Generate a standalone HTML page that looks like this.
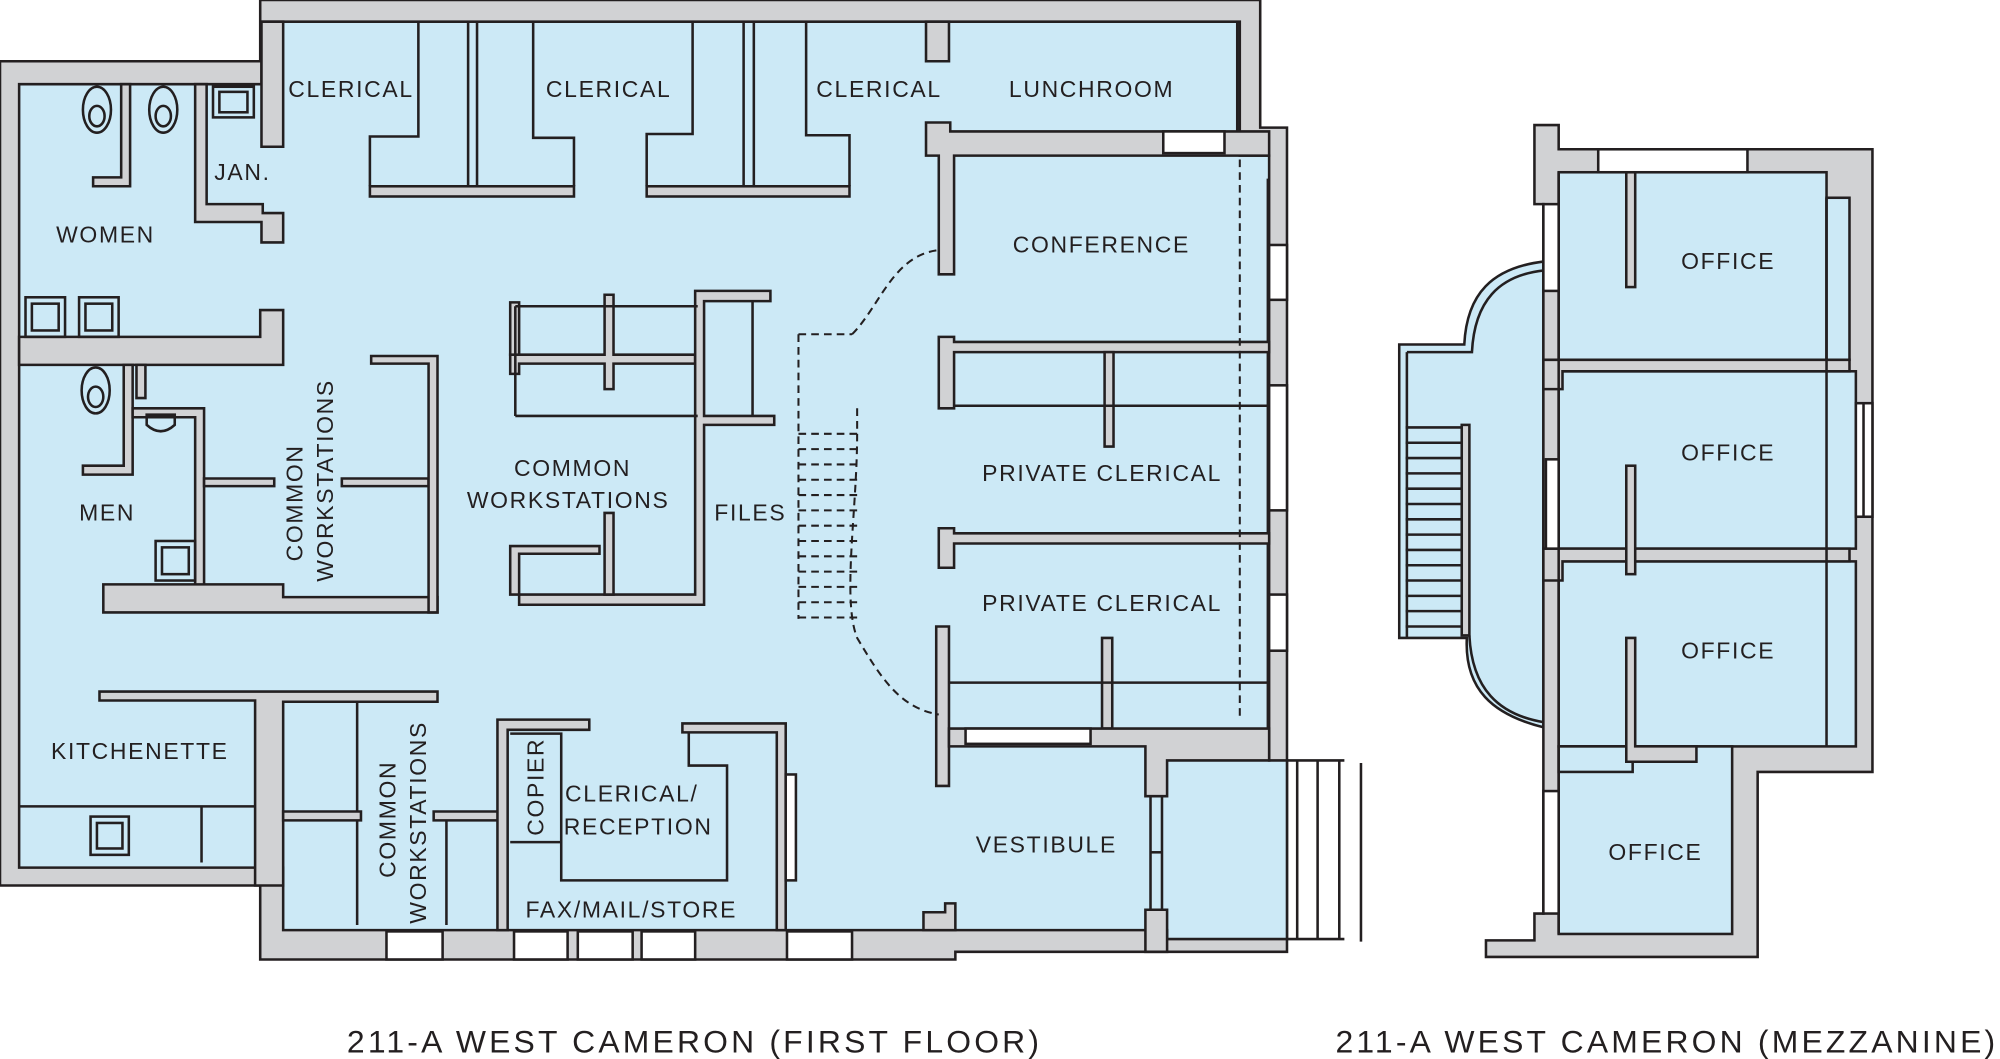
<!DOCTYPE html>
<html><head><meta charset="utf-8"><style>
html,body{margin:0;padding:0;background:#fff}
svg{display:block}
.g{fill:#d1d2d4;stroke:#231f20;stroke-width:2;stroke-linejoin:miter}
.b{fill:#cce9f6;stroke:#231f20;stroke-width:2}
.ln{stroke:#231f20;stroke-width:2;fill:none}
.d{stroke:#231f20;stroke-width:1.6;fill:none;stroke-dasharray:6 4}
.w{fill:#fff;stroke:#231f20;stroke-width:2}
text{font-family:"Liberation Sans",sans-serif;fill:#231f20;font-size:18px;letter-spacing:1.3px}
.t{font-size:25px;letter-spacing:2.5px}
</style></head><body>
<svg width="2000" height="1059" viewBox="0 0 1568 830" preserveAspectRatio="none" xmlns="http://www.w3.org/2000/svg">
<polygon class="g" points="0,48 204,48 204,0 988,0 988,100 1009,100 1009,746 749,746 749,752 204,752 204,694 0,694"/>
<polygon class="b" points="15,66 205,66 205,17 972,17 972,122 995,122 995,596 1009,596 1009,736 915,736 915,729 222,729 222,680 15,680"/>
<polygon class="g" points="205,17 222,17 222,115 205,115"/>
<polygon class="g" points="153,66 162,66 162,160 206,160 206,167 222,167 222,190 205,190 205,174 153,174"/>
<polygon class="g" points="95,66 102,66 102,146 73,146 73,139 95,139"/>
<polygon class="g" points="15,264 204,264 204,243 222,243 222,286 15,286"/>
<ellipse class="ln" cx="76" cy="86" rx="11" ry="18"/><ellipse class="ln" cx="76" cy="91" rx="6" ry="8"/>
<ellipse class="ln" cx="128" cy="86" rx="11" ry="18"/><ellipse class="ln" cx="128" cy="91" rx="6" ry="8"/>
<rect class="ln" x="167" y="68" width="32" height="24"/><rect class="ln" x="172" y="72" width="22" height="16"/>
<rect class="ln" x="20" y="233" width="31" height="31"/><rect class="ln" x="25" y="238" width="21" height="21"/>
<rect class="ln" x="62" y="233" width="31" height="31"/><rect class="ln" x="67" y="238" width="21" height="21"/>
<polygon class="g" points="97,286 104,286 104,372 65,372 65,365 97,365"/>
<polygon class="g" points="104,320 160,320 160,460 153,460 153,327 104,327"/>
<polygon class="g" points="107,286 114,286 114,312 107,312"/>
<polygon class="g" points="160,375 215,375 215,381 160,381"/>
<polygon class="g" points="81,458 222,458 222,468 343,468 343,480 81,480"/>
<ellipse class="ln" cx="75" cy="306" rx="11" ry="18"/><ellipse class="ln" cx="75" cy="311" rx="6" ry="8"/>
<path class="ln" d="M115 325 h22 v8 q-11 10 -22 0z"/>
<rect class="ln" x="122" y="424" width="31" height="31"/><rect class="ln" x="127" y="429" width="21" height="21"/>
<polygon class="g" points="268,375 336,375 336,381 268,381"/>
<polygon class="g" points="291,279 343,279 343,480 336,480 336,285 291,285"/>
<rect class="g" x="290" y="146" width="160" height="8"/>
<rect class="g" x="507" y="146" width="159" height="8"/>
<path class="ln" d="M328,17 V107 H290 V146 M367,17 V146 M374,17 V146 M418,17 V108 H450 V146 M543,17 V105 H507 V146 M583,17 V146 M591,17 V146 M632,17 V106 H666 V146"/>
<polygon class="g" points="726,17 744,17 744,48 726,48"/>
<polygon class="g" points="726,96 745,96 745,103 995,103 995,122 748,122 748,215 736,215 736,122 726,122"/>
<rect class="w" x="912" y="103" width="48" height="17"/>
<line class="ln" x1="970" y1="17" x2="970" y2="103"/>
<line class="ln" x1="994" y1="140" x2="994" y2="572"/>
<rect class="w" x="995" y="192" width="14" height="43"/>
<rect class="w" x="995" y="302" width="14" height="98"/>
<rect class="w" x="995" y="466" width="14" height="44"/>
<polygon class="g" points="736,264 748,264 748,268 995,268 995,276 748,276 748,320 736,320"/>
<polygon class="g" points="866,276 873,276 873,350 866,350"/>
<line class="ln" x1="748" y1="318" x2="995" y2="318"/>
<polygon class="g" points="736,414 748,414 748,418 995,418 995,426 748,426 748,445 736,445"/>
<polygon class="g" points="734,491 744,491 744,616 734,616"/>
<polygon class="g" points="864,500 872,500 872,571 864,571"/>
<line class="ln" x1="744" y1="535" x2="995" y2="535"/>
<polygon class="g" points="744,571 995,571 995,596 915,596 915,624 898,624 898,585 744,585"/>
<rect class="w" x="757" y="571" width="98" height="12"/>
<g class="ln"><line x1="902" y1="624" x2="902" y2="713"/><line x1="911" y1="624" x2="911" y2="713"/><line x1="902" y1="668" x2="911" y2="668"/></g>
<polygon class="g" points="898,713 915,713 915,746 898,746"/>
<polygon class="g" points="724,729 724,715 741,715 741,708 749,708 749,729"/>
<g class="ln"><line x1="1017" y1="596" x2="1017" y2="736"/><line x1="1033" y1="596" x2="1033" y2="736"/><line x1="1050" y1="596" x2="1050" y2="736"/><line x1="1067" y1="598" x2="1067" y2="738"/><line x1="1009" y1="596" x2="1054" y2="596"/><line x1="1009" y1="736" x2="1054" y2="736"/></g>
<line class="d" x1="972" y1="125" x2="972" y2="565"/>
<polygon class="g" points="400,278 474,278 474,231 481,231 481,278 545,278 545,285 481,285 481,305 474,305 474,285 407,285 407,293 400,293"/>
<polygon class="g" points="400,237 407,237 407,278 400,278"/>
<polygon class="g" points="545,228 604,228 604,236 552,236 552,326 607,326 607,333 552,333 552,474 407,474 407,466 545,466"/>
<polygon class="g" points="474,402 481,402 481,466 474,466"/>
<polygon class="g" points="400,428 470,428 470,434 407,434 407,466 400,466"/>
<g class="ln"><line x1="404" y1="240" x2="547" y2="240"/><line x1="404" y1="326" x2="547" y2="326"/><line x1="404" y1="240" x2="404" y2="326"/><line x1="590" y1="236" x2="590" y2="326"/></g>
<g class="d"><line x1="626" y1="262" x2="626" y2="485"/><line x1="626" y1="262" x2="668" y2="262"/>
<path d="M668 262 C690 240 700 200 736 196"/><path d="M672 320 V340 C672 400 660 470 672 500 C690 530 705 555 736 560"/>
<line x1="626" y1="340" x2="672" y2="340"/><line x1="626" y1="352" x2="672" y2="352"/><line x1="626" y1="364" x2="672" y2="364"/><line x1="626" y1="376" x2="672" y2="376"/><line x1="626" y1="388" x2="672" y2="388"/><line x1="626" y1="400" x2="672" y2="400"/><line x1="626" y1="412" x2="672" y2="412"/><line x1="626" y1="424" x2="672" y2="424"/><line x1="626" y1="436" x2="672" y2="436"/><line x1="626" y1="448" x2="672" y2="448"/><line x1="626" y1="460" x2="672" y2="460"/><line x1="626" y1="472" x2="672" y2="472"/><line x1="626" y1="484" x2="672" y2="484"/></g>
<polygon class="g" points="78,542 343,542 343,550 222,550 222,694 200,694 200,549 78,549"/>
<g class="ln"><line x1="15" y1="632" x2="200" y2="632"/><line x1="158" y1="632" x2="158" y2="676"/><line x1="280" y1="550" x2="280" y2="725"/><line x1="350" y1="643" x2="350" y2="725"/></g>
<rect class="ln" x="71" y="640" width="30" height="30"/><rect class="ln" x="76" y="645" width="20" height="20"/>
<polygon class="g" points="222,636 283,636 283,643 222,643"/>
<polygon class="g" points="340,636 392,636 392,643 340,643"/>
<polygon class="g" points="390,564 462,564 462,572 398,572 398,729 390,729"/>
<polygon class="g" points="535,567 616,567 616,729 609,729 609,574 535,574"/>
<path class="ln" d="M400 575 H440 V660 H400"/>
<path class="ln" d="M540 574 V600 H570 V690 H440 V660"/>
<rect class="w" x="616" y="607" width="8" height="83"/>
<rect class="w" x="303" y="730" width="44" height="22"/>
<rect class="w" x="403" y="730" width="42" height="22"/>
<rect class="w" x="453" y="730" width="43" height="22"/>
<rect class="w" x="503" y="730" width="42" height="22"/>
<rect class="w" x="617" y="730" width="51" height="22"/>
<!-- MEZZANINE -->
<path class="b" d="M1097,270 H1148 C1150,230 1170,210 1210,205 V570 C1170,560 1148,540 1150,500 H1097 Z"/>
<path class="ln" d="M1103,276 H1154 C1156,236 1175,216 1210,212" stroke="#d1d2d4"/>
<path class="ln" d="M1103,276 V500"/>
<g class="ln"><line x1="1102" y1="335" x2="1146" y2="335"/><line x1="1102" y1="347" x2="1146" y2="347"/><line x1="1102" y1="359" x2="1146" y2="359"/><line x1="1102" y1="371" x2="1146" y2="371"/><line x1="1102" y1="383" x2="1146" y2="383"/><line x1="1102" y1="395" x2="1146" y2="395"/><line x1="1102" y1="407" x2="1146" y2="407"/><line x1="1102" y1="419" x2="1146" y2="419"/><line x1="1102" y1="431" x2="1146" y2="431"/><line x1="1102" y1="443" x2="1146" y2="443"/><line x1="1102" y1="455" x2="1146" y2="455"/><line x1="1102" y1="467" x2="1146" y2="467"/><line x1="1102" y1="479" x2="1146" y2="479"/><line x1="1102" y1="491" x2="1146" y2="491"/></g>
<rect class="g" x="1146" y="333" width="6" height="165"/>
<path class="ln" d="M1152,498 C1154,540 1175,560 1210,566"/>
<polygon class="g" points="1203,98 1222,98 1222,117 1468,117 1468,605 1378,605 1378,750 1165,750 1165,737 1203,737 1203,716 1210,716 1210,160 1203,160"/>
<rect class="b" x="1222" y="135" width="210" height="147"/>
<rect class="b" x="1432" y="155" width="18" height="127"/>
<rect class="b" x="1222" y="291" width="233" height="139"/>
<rect class="b" x="1222" y="440" width="233" height="145"/>
<rect class="b" x="1222" y="585" width="136" height="147"/>
<rect class="b" x="1222" y="585" width="58" height="20" stroke="none"/>
<polygon class="g" points="1210,282 1450,282 1450,291 1225,291 1225,305 1210,305"/>
<polygon class="g" points="1210,430 1450,430 1450,440 1225,440 1225,455 1210,455"/>
<line class="ln" x1="1432" y1="155" x2="1432" y2="585"/>
<line class="ln" x1="1222" y1="135" x2="1222" y2="732"/>
<rect class="g" x="1275" y="135" width="7" height="90"/>
<rect class="g" x="1275" y="365" width="7" height="85"/>
<polygon class="g" points="1275,500 1282,500 1282,585 1330,585 1330,597 1275,597"/>
<rect class="w" x="1253" y="117" width="117" height="18"/>
<rect class="w" x="1210" y="160" width="12" height="68"/>
<rect class="w" x="1212" y="360" width="10" height="70"/>
<rect class="w" x="1210" y="620" width="12" height="96"/>
<rect class="w" x="1455" y="316" width="13" height="89"/>
<line class="ln" x1="1461" y1="316" x2="1461" y2="405"/>
<!-- labels -->
<text x="226" y="76">CLERICAL</text>
<text x="428" y="76">CLERICAL</text>
<text x="640" y="76">CLERICAL</text>
<text x="791" y="76">LUNCHROOM</text>
<text x="168" y="141">JAN.</text>
<text x="44" y="190">WOMEN</text>
<text x="794" y="198">CONFERENCE</text>
<text x="62" y="408">MEN</text>
<text x="403" y="373">COMMON</text>
<text x="366" y="398">WORKSTATIONS</text>
<text x="560" y="408">FILES</text>
<text x="770" y="377">PRIVATE CLERICAL</text>
<text x="770" y="479">PRIVATE CLERICAL</text>
<text x="40" y="595">KITCHENETTE</text>
<text x="765" y="668">VESTIBULE</text>
<text x="443" y="628">CLERICAL/</text>
<text x="442" y="654">RECEPTION</text>
<text x="412" y="719">FAX/MAIL/STORE</text>
<text transform="translate(426,655) rotate(-90)">COPIER</text>
<text transform="translate(237,440) rotate(-90)">COMMON</text>
<text transform="translate(261,456) rotate(-90)">WORKSTATIONS</text>
<text transform="translate(310,688) rotate(-90)">COMMON</text>
<text transform="translate(334,724) rotate(-90)">WORKSTATIONS</text>
<text x="1318" y="211">OFFICE</text>
<text x="1318" y="361">OFFICE</text>
<text x="1318" y="516">OFFICE</text>
<text x="1261" y="674">OFFICE</text>
<text class="t" x="272" y="825">211-A WEST CAMERON (FIRST FLOOR)</text>
<text class="t" x="1047" y="825">211-A WEST CAMERON (MEZZANINE)</text>
</svg>
</body></html>
